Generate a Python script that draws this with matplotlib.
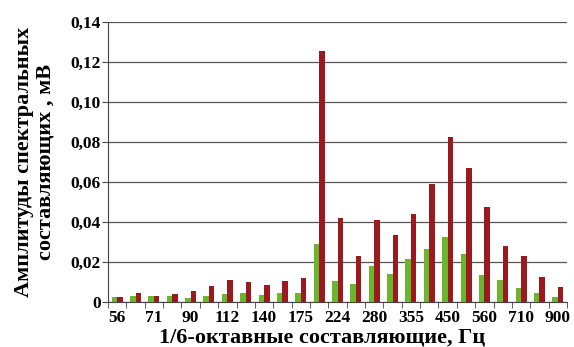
import numpy as np
import matplotlib.pyplot as plt
from matplotlib.ticker import FixedLocator, FuncFormatter

# 1/6-октавные полосы, Гц
freqs = ["56", "63", "71", "80", "90", "100", "112", "125", "140", "160", "175", "200",
         "224", "250", "280", "315", "355", "400", "450", "500", "560", "630", "710", "800", "900"]

green_vals = [0.0023, 0.0028, 0.0028, 0.0028, 0.0018, 0.0028, 0.0039, 0.0044, 0.0036, 0.0044,
              0.0044, 0.0288, 0.0103, 0.0090, 0.0182, 0.0140, 0.0217, 0.0267, 0.0323, 0.0242,
              0.0137, 0.0112, 0.0070, 0.0043, 0.0023]
red_vals = [0.0023, 0.0044, 0.0031, 0.0038, 0.0057, 0.0080, 0.0110, 0.0100, 0.0085, 0.0105,
            0.0120, 0.1253, 0.0420, 0.0232, 0.0412, 0.0333, 0.0438, 0.0590, 0.0827, 0.0670,
            0.0475, 0.0278, 0.0232, 0.0123, 0.0073]

plt.rcParams['font.family'] = ['Liberation Serif', 'DejaVu Serif']
plt.rcParams['font.weight'] = 'bold'

fig = plt.figure(figsize=(5.74, 3.47), dpi=100)
ax = fig.add_axes([108 / 574, 1 - 302 / 347, 459 / 574, 280 / 347])

x = np.arange(len(freqs))
w = 0.3
ax.bar(x - w / 2, green_vals, width=w, color="#6cb52f", zorder=3)
ax.bar(x + w / 2, red_vals, width=w, color="#9a1a20", zorder=3)

ax.set_xlim(-0.5, len(freqs) - 0.5)
ax.set_ylim(0, 0.14)
ax.set_yticks(np.arange(0, 0.141, 0.02))
ax.yaxis.set_major_formatter(FuncFormatter(lambda v, p: "0" if v == 0 else f"{v:.2f}".replace(".", ",")))
ax.grid(axis="y", color="#555555", linewidth=0.9, zorder=0)

ax.set_xticks(x[::2])
ax.set_xticklabels(freqs[::2])
ax.xaxis.set_minor_locator(FixedLocator(np.arange(-0.5, len(freqs), 1.0)))
ax.tick_params(axis="x", which="major", length=0, pad=6, labelsize=12.5)
ax.tick_params(axis="x", which="minor", length=4, color="#444444")
ax.tick_params(axis="y", length=4, pad=1, labelsize=12.5, color="#444444")

for s in ["top", "right"]:
    ax.spines[s].set_visible(False)
for s in ["left", "bottom"]:
    ax.spines[s].set_color("#444444")

ax.set_xlabel("1/6-октавные составляющие, Гц", fontsize=16, fontweight="bold")
ax.xaxis.set_label_coords((322 - 108) / 459, -26 / 280)
ax.set_ylabel("Амплитуды спектральных\nсоставляющих , мВ", fontsize=16, fontweight="bold",
              linespacing=1.15)
ax.yaxis.set_label_coords(-52 / 459, 0.5)

fig.savefig("out.png", dpi=100)
